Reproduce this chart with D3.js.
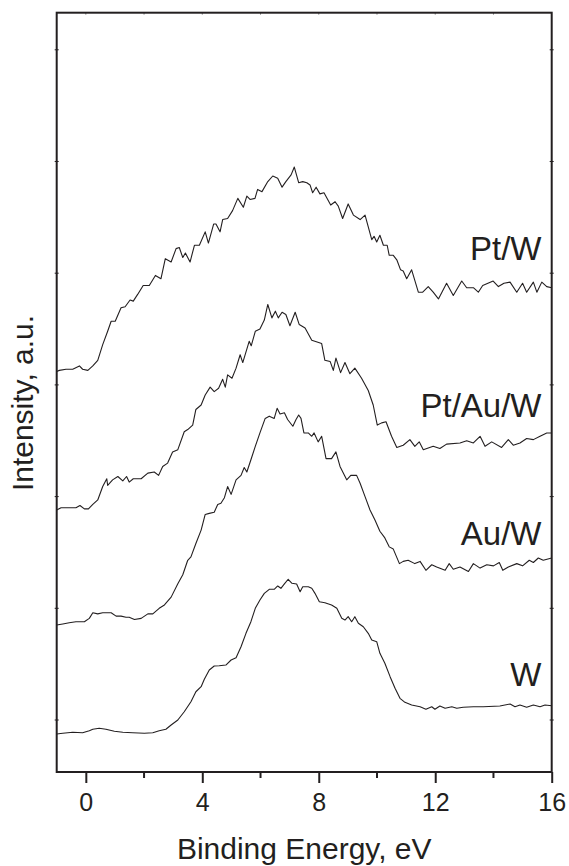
<!DOCTYPE html>
<html>
<head>
<meta charset="utf-8">
<script src="https://cdn.jsdelivr.net/npm/d3@7/dist/d3.min.js"></script>
<style>
  body { margin: 0; background: #fff; }
  svg text { font-family: "Liberation Sans", Arial, Helvetica, sans-serif; fill: #231f20; }
</style>
</head>
<body>
<script>
// spectra: [binding energy (eV), intensity (a.u., offset per curve)]
const ptW = [[-1.00,3.12],[-0.91,3.13],[-0.68,3.14],[-0.45,3.14],[-0.22,3.17],[-0.11,3.14],[0.07,3.13],[0.24,3.17],[0.41,3.22],[0.58,3.36],[0.75,3.48],[0.87,3.57],[1.01,3.57],[1.21,3.69],[1.35,3.70],[1.52,3.76],[1.63,3.75],[1.78,3.81],[1.97,3.89],[2.18,3.89],[2.39,3.98],[2.58,3.95],[2.73,4.13],[2.93,4.10],[3.10,4.22],[3.21,4.23],[3.33,4.14],[3.42,4.18],[3.58,4.10],[3.73,4.25],[3.90,4.25],[4.10,4.37],[4.21,4.27],[4.39,4.44],[4.47,4.44],[4.61,4.37],[4.70,4.48],[4.87,4.49],[5.04,4.56],[5.22,4.67],[5.41,4.59],[5.53,4.69],[5.64,4.66],[5.81,4.67],[5.90,4.75],[6.05,4.73],[6.25,4.82],[6.42,4.87],[6.59,4.85],[6.74,4.77],[6.87,4.82],[7.05,4.88],[7.16,4.95],[7.31,4.81],[7.45,4.82],[7.59,4.81],[7.70,4.79],[7.79,4.72],[7.91,4.77],[8.04,4.71],[8.18,4.72],[8.41,4.61],[8.56,4.64],[8.67,4.60],[8.82,4.49],[9.01,4.62],[9.19,4.52],[9.42,4.48],[9.59,4.52],[9.82,4.30],[9.90,4.33],[9.99,4.28],[10.10,4.34],[10.22,4.25],[10.35,4.25],[10.42,4.16],[10.56,4.16],[10.68,4.12],[10.81,4.03],[10.90,4.02],[11.02,3.95],[11.19,4.03],[11.42,3.83],[11.57,3.83],[11.76,3.88],[11.93,3.83],[12.11,3.77],[12.39,3.91],[12.62,3.80],[12.91,3.93],[13.08,3.87],[13.31,3.87],[13.48,3.83],[13.63,3.89],[13.99,3.93],[14.17,3.88],[14.36,3.91],[14.57,3.92],[14.80,3.83],[15.00,3.91],[15.14,3.83],[15.37,3.92],[15.49,3.83],[15.66,3.92],[15.83,3.88],[16.00,3.87]];

const ptAuW = [[-1.00,1.88],[-0.85,1.90],[-0.57,1.90],[-0.34,1.90],[-0.20,1.92],[-0.05,1.89],[0.09,1.89],[0.24,1.93],[0.41,1.97],[0.58,2.09],[0.72,2.16],[0.75,2.10],[0.92,2.15],[1.10,2.18],[1.27,2.14],[1.40,2.18],[1.49,2.13],[1.63,2.16],[1.90,2.16],[2.13,2.21],[2.35,2.22],[2.50,2.19],[2.64,2.27],[2.81,2.30],[2.98,2.40],[3.16,2.42],[3.38,2.58],[3.50,2.60],[3.67,2.64],[3.78,2.78],[3.96,2.82],[4.10,2.91],[4.27,2.98],[4.41,2.94],[4.56,2.97],[4.70,3.05],[4.79,2.98],[4.87,3.09],[5.02,3.06],[5.16,3.15],[5.30,3.27],[5.39,3.20],[5.61,3.39],[5.68,3.35],[5.82,3.48],[5.98,3.50],[6.13,3.58],[6.25,3.72],[6.39,3.60],[6.51,3.66],[6.61,3.60],[6.74,3.65],[6.87,3.63],[7.01,3.53],[7.19,3.65],[7.33,3.54],[7.53,3.51],[7.76,3.40],[8.10,3.37],[8.21,3.22],[8.39,3.21],[8.50,3.13],[8.59,3.24],[8.75,3.11],[8.90,3.20],[9.07,3.10],[9.24,3.15],[9.47,3.06],[9.70,2.95],[9.87,2.82],[10.01,2.64],[10.16,2.66],[10.31,2.67],[10.50,2.54],[10.68,2.44],[10.90,2.46],[11.13,2.51],[11.30,2.45],[11.45,2.49],[11.59,2.42],[11.93,2.45],[12.16,2.43],[12.39,2.47],[12.85,2.48],[13.08,2.50],[13.31,2.48],[13.54,2.54],[13.71,2.45],[13.94,2.49],[14.28,2.44],[14.51,2.51],[14.68,2.46],[14.91,2.48],[15.14,2.52],[15.37,2.51],[15.60,2.54],[15.83,2.57],[16.00,2.57]];

const auW = [[-1.00,0.85],[-0.79,0.86],[-0.57,0.87],[-0.34,0.88],[-0.05,0.88],[0.12,0.91],[0.24,0.96],[0.41,0.95],[0.58,0.96],[0.69,0.96],[0.87,0.96],[1.04,0.93],[1.21,0.93],[1.38,0.92],[1.49,0.92],[1.67,0.90],[1.90,0.91],[2.13,0.95],[2.30,0.95],[2.52,1.00],[2.70,1.03],[2.93,1.10],[3.16,1.22],[3.33,1.30],[3.50,1.43],[3.61,1.46],[3.78,1.58],[3.96,1.70],[4.10,1.84],[4.24,1.85],[4.41,1.86],[4.53,1.93],[4.64,1.94],[4.76,1.99],[4.87,2.09],[4.99,2.02],[5.16,2.15],[5.33,2.19],[5.44,2.26],[5.53,2.22],[5.67,2.33],[5.82,2.45],[5.98,2.57],[6.16,2.70],[6.30,2.72],[6.47,2.70],[6.57,2.79],[6.67,2.74],[6.82,2.75],[6.93,2.69],[7.11,2.63],[7.22,2.69],[7.31,2.73],[7.39,2.70],[7.49,2.57],[7.64,2.57],[7.76,2.54],[7.84,2.57],[7.98,2.49],[8.10,2.54],[8.25,2.34],[8.44,2.34],[8.59,2.40],[8.73,2.27],[8.96,2.15],[9.10,2.19],[9.30,2.19],[9.42,2.12],[9.59,2.00],[9.76,1.88],[9.93,1.79],[10.10,1.69],[10.27,1.63],[10.42,1.55],[10.56,1.53],[10.77,1.40],[10.90,1.42],[11.07,1.43],[11.30,1.40],[11.48,1.42],[11.68,1.34],[11.88,1.39],[12.05,1.37],[12.34,1.34],[12.48,1.40],[12.62,1.35],[12.85,1.37],[13.14,1.33],[13.31,1.40],[13.54,1.36],[13.77,1.39],[14.00,1.38],[14.20,1.41],[14.32,1.34],[14.51,1.37],[14.80,1.40],[15.00,1.38],[15.23,1.43],[15.37,1.41],[15.54,1.45],[15.71,1.43],[16.00,1.45]];

const w = [[-1.00,-0.125],[-0.79,-0.119],[-0.45,-0.110],[-0.11,-0.114],[0.12,-0.096],[0.24,-0.083],[0.46,-0.074],[0.69,-0.083],[0.98,-0.101],[1.27,-0.110],[1.61,-0.114],[2.01,-0.119],[2.30,-0.114],[2.52,-0.096],[2.75,-0.083],[2.93,-0.045],[3.16,0.000],[3.38,0.074],[3.61,0.164],[3.78,0.253],[3.96,0.298],[4.07,0.364],[4.24,0.448],[4.41,0.483],[4.58,0.486],[4.81,0.492],[4.99,0.537],[5.16,0.558],[5.33,0.656],[5.50,0.776],[5.67,0.880],[5.82,1.000],[5.98,1.074],[6.13,1.134],[6.30,1.170],[6.47,1.170],[6.59,1.200],[6.70,1.179],[6.82,1.218],[6.95,1.260],[7.08,1.224],[7.24,1.218],[7.36,1.149],[7.45,1.193],[7.64,1.193],[7.76,1.179],[7.87,1.134],[8.02,1.059],[8.21,1.050],[8.44,1.030],[8.62,1.000],[8.79,0.910],[8.90,0.895],[9.01,0.925],[9.13,0.880],[9.24,0.925],[9.36,0.866],[9.53,0.835],[9.70,0.776],[9.82,0.716],[9.99,0.701],[10.10,0.597],[10.27,0.508],[10.45,0.388],[10.62,0.284],[10.79,0.194],[10.96,0.158],[11.19,0.134],[11.48,0.119],[11.68,0.096],[11.88,0.119],[11.99,0.096],[12.16,0.125],[12.34,0.105],[12.57,0.119],[12.74,0.105],[12.96,0.114],[13.31,0.119],[13.65,0.119],[14.22,0.125],[14.57,0.143],[14.74,0.119],[14.91,0.134],[15.14,0.114],[15.37,0.134],[15.60,0.119],[15.77,0.134],[16.00,0.128]];

const seriesNames = ["Pt/W", "Pt/Au/W", "Au/W", "W"];
const seriesData = [ptW, ptAuW, auW, w];
// where each name sits: [energy at right end of text, intensity at baseline]
const labelSpots = [[15.65, 4.12], [15.65, 2.71], [15.65, 1.57], [15.65, 0.30]];

const xTicks = [0, 4, 8, 12, 16];
const xMinor = [-1, 2, 6, 10, 14];
const yTicks = [0, 1, 2, 3, 4, 5, 6];

const width = 569, height = 866;
const margin = {top: 12.7, right: 17.3, bottom: 94, left: 56.7};

const x = d3.scaleLinear()
            .domain([-1, 16])
            .range([margin.left, width - margin.right]);

const y = d3.scaleLinear()
            .domain([-0.4655, 6.332])
            .range([height - margin.bottom, margin.top]);

const svg = d3.select("body")
              .append("svg")
              .attr("width", width)
              .attr("height", height);

// curves
const line = d3.line()
               .x(d => x(d[0]))
               .y(d => y(d[1]));

svg.selectAll("path.curve")
   .data(seriesData)
   .enter()
   .append("path")
   .attr("class", "curve")
   .attr("d", line)
   .style("fill", "none")
   .style("stroke", "#231f20")
   .style("stroke-width", 1.1)
   .style("stroke-linejoin", "round");

// bottom axis with outward ticks
const xAxis = d3.axisBottom(x)
                .tickValues(xTicks)
                .tickSize(11)
                .tickPadding(10)
                .tickFormat(d3.format("d"));

const gx = svg.append("g")
              .attr("transform", `translate(0,${y.range()[0]})`)
              .call(xAxis);
gx.select(".domain").remove();
gx.selectAll(".tick line").style("stroke", "#231f20").style("stroke-width", 2);
gx.selectAll(".tick text")
  .style("font-size", "25px")
  .style("fill", "#231f20")
  .attr("dy", "0.71em");

svg.append("g")
   .attr("transform", `translate(0,${y.range()[0]})`)
   .selectAll("line")
   .data(xMinor.filter(d => d > -1))
   .enter()
   .append("line")
   .attr("x1", d => x(d)).attr("x2", d => x(d))
   .attr("y1", 0).attr("y2", 6)
   .style("stroke", "#231f20")
   .style("stroke-width", 2);

// top minor marks
svg.append("g")
   .selectAll("line")
   .data(xTicks.concat(xMinor).filter(d => d > -1 && d < 16))
   .enter()
   .append("line")
   .attr("x1", d => x(d)).attr("x2", d => x(d))
   .attr("y1", y.range()[1]).attr("y2", y.range()[1] + 2)
   .style("stroke", "#888")
   .style("stroke-width", 1);

// left / right small ticks
[x.range()[0], x.range()[1]].forEach(px => {
  svg.append("g")
     .selectAll("line")
     .data(yTicks)
     .enter()
     .append("line")
     .attr("x1", px - 2).attr("x2", px + 2)
     .attr("y1", d => y(d)).attr("y2", d => y(d))
     .style("stroke", "#231f20")
     .style("stroke-width", 1);
});

// frame
svg.append("rect")
   .attr("x", x.range()[0])
   .attr("y", y.range()[1])
   .attr("width", x.range()[1] - x.range()[0])
   .attr("height", y.range()[0] - y.range()[1])
   .style("fill", "none")
   .style("stroke", "#231f20")
   .style("stroke-width", 2);

// curve labels
svg.selectAll("text.label")
   .data(seriesNames)
   .enter()
   .append("text")
   .attr("class", "label")
   .attr("x", (d, i) => x(labelSpots[i][0]))
   .attr("y", (d, i) => y(labelSpots[i][1]))
   .attr("text-anchor", "end")
   .style("font-size", "33px")
   .text(d => d);

// axis titles
svg.append("text")
   .attr("x", (x.range()[0] + x.range()[1]) / 2)
   .attr("y", 858.7)
   .attr("text-anchor", "middle")
   .style("font-size", "30px")
   .text("Binding Energy, eV");

svg.append("text")
   .attr("transform", "translate(33,403) rotate(-90)")
   .attr("text-anchor", "middle")
   .style("font-size", "30px")
   .text("Intensity, a.u.");
</script>
</body>
</html>
